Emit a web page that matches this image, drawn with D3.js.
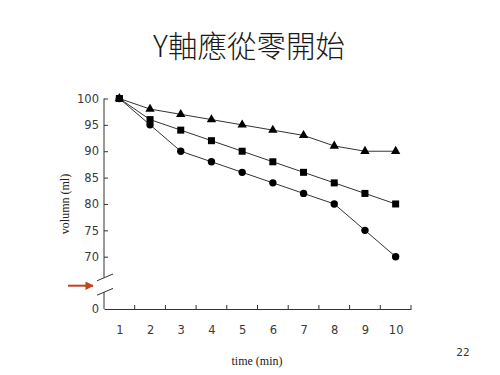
<!DOCTYPE html>
<html>
<head>
<meta charset="utf-8">
<script src="https://cdnjs.cloudflare.com/ajax/libs/d3/7.8.5/d3.min.js"></script>
<style>
  body { margin: 0; background: #fff; }
  .tick text { fill: #3a3a3a; }
</style>
</head>
<body>
<div id="chart"></div>
<script>
var title = "Y軸應從零開始";
var times = [1, 2, 3, 4, 5, 6, 7, 8, 9, 10];
var triangleSeries = [100, 98, 97, 96, 95, 94, 93, 91, 90, 90];
var squareSeries = [100, 96, 94, 92, 90, 88, 86, 84, 82, 80];
var circleSeries = [100, 95, 90, 88, 86, 84, 82, 80, 75, 70];
var yTickValues = [70, 75, 80, 85, 90, 95, 100];
var xTickMarks = [1.5, 2.5, 3.5, 4.5, 5.5, 6.5, 7.5, 8.5, 9.5, 10.5];
var xLabel = "time (min)";
var yLabel = "volumn (ml)";
var pageNumber = "22";

var width = 500, height = 375;

var svg = d3.select("#chart").append("svg")
    .attr("width", width)
    .attr("height", height);

// title
svg.append("text")
    .attr("x", 249)
    .attr("y", 57)
    .attr("text-anchor", "middle")
    .style("font-family", "'Noto Sans CJK TC', sans-serif")
    .style("font-weight", "300")
    .style("font-size", "29.5px")
    .style("fill", "#1a1a1a")
    .text(title);

// scales: piecewise y so the 0..70 gap is squeezed (broken axis)
var x = d3.scaleLinear().domain([0.5, 10.5]).range([104, 411]);
var y = d3.scaleLinear().domain([0, 70, 100]).range([309, 256.7, 98.5]);

var axisColor = "#333";

// y axis ticks + labels (ticks point inward)
var yAxis = svg.append("g")
    .attr("transform", "translate(" + x(0.5) + ",0)")
    .call(d3.axisLeft(y).tickValues(yTickValues).tickSizeInner(-4).tickSizeOuter(0).tickPadding(5));
yAxis.select(".domain").remove();
yAxis.selectAll("line").attr("stroke", axisColor);
yAxis.selectAll("text")
    .style("font-family", "'DejaVu Sans', sans-serif")
    .style("font-size", "11.5px");

// zero label
svg.append("text")
    .attr("x", x(0.5) - 5)
    .attr("y", y(0))
    .attr("dy", "0.32em")
    .attr("text-anchor", "end")
    .style("font-family", "'DejaVu Sans', sans-serif")
    .style("font-size", "11.5px")
    .style("fill", "#3a3a3a")
    .text("0");

// y axis line with break
var breakTop = 277.6, breakBottom = 292;
svg.append("line")
    .attr("x1", x(0.5)).attr("x2", x(0.5))
    .attr("y1", y(100)).attr("y2", breakTop)
    .attr("stroke", axisColor);
svg.append("line")
    .attr("x1", x(0.5)).attr("x2", x(0.5))
    .attr("y1", breakBottom).attr("y2", y(0))
    .attr("stroke", axisColor);
[breakTop, breakBottom].forEach(function(by) {
    svg.append("line")
        .attr("x1", x(0.5) - 7).attr("y1", by + 3.2)
        .attr("x2", x(0.5) + 9).attr("y2", by - 3.6)
        .attr("stroke", axisColor);
});

// red arrow pointing at the break
svg.append("defs").append("marker")
    .attr("id", "arrowHead")
    .attr("viewBox", "0 0 10 10")
    .attr("refX", 9).attr("refY", 5)
    .attr("markerWidth", 4.2).attr("markerHeight", 4.2)
    .attr("orient", "auto")
    .append("path")
    .attr("d", "M0,0L10,5L0,10z")
    .attr("fill", "#c0441f");
svg.append("line")
    .attr("x1", 68).attr("y1", 285.7)
    .attr("x2", 93).attr("y2", 285.7)
    .attr("stroke", "#c0441f")
    .attr("stroke-width", 2)
    .attr("marker-end", "url(#arrowHead)");

// x axis
var xAxis = svg.append("g")
    .attr("transform", "translate(0," + y(0) + ")")
    .call(d3.axisBottom(x).tickValues(times).tickSize(0).tickPadding(17).tickFormat(d3.format("d")));
xAxis.select(".domain").attr("stroke", axisColor);
xAxis.selectAll("text")
    .style("font-family", "'DejaVu Sans', sans-serif")
    .style("font-size", "11.5px");
svg.append("g").selectAll("line")
    .data(xTickMarks).enter()
    .append("line")
    .attr("x1", function(d) { return x(d); })
    .attr("x2", function(d) { return x(d); })
    .attr("y1", y(0))
    .attr("y2", y(0) - 4)
    .attr("stroke", axisColor);

// axis titles
svg.append("text")
    .attr("x", 257)
    .attr("y", 365)
    .attr("text-anchor", "middle")
    .style("font-family", "'Liberation Serif', serif")
    .style("font-size", "12px")
    .style("fill", "#222")
    .text(xLabel);
svg.append("text")
    .attr("transform", "translate(69,204)rotate(-90)")
    .attr("text-anchor", "middle")
    .style("font-family", "'Liberation Serif', serif")
    .style("font-size", "12px")
    .style("fill", "#222")
    .text(yLabel);

// page number
svg.append("text")
    .attr("x", 463)
    .attr("y", 356)
    .attr("text-anchor", "middle")
    .style("font-family", "'DejaVu Sans', sans-serif")
    .style("font-size", "10.5px")
    .style("fill", "#333")
    .text(pageNumber);

// series lines
var line = d3.line()
    .x(function(d, i) { return x(times[i]); })
    .y(function(d) { return y(d); });

[triangleSeries, squareSeries, circleSeries].forEach(function(s) {
    svg.append("path")
        .datum(s)
        .attr("d", line)
        .attr("fill", "none")
        .attr("stroke", "#333")
        .attr("stroke-width", 1);
});

// markers
svg.append("g").selectAll("path")
    .data(triangleSeries).enter()
    .append("path")
    .attr("transform", function(d, i) { return "translate(" + x(times[i]) + "," + y(d) + ")"; })
    .attr("d", d3.symbol().type(d3.symbolTriangle).size(38))
    .attr("fill", "#000");

svg.append("g").selectAll("rect")
    .data(squareSeries).enter()
    .append("rect")
    .attr("x", function(d, i) { return x(times[i]) - 3.5; })
    .attr("y", function(d) { return y(d) - 3.5; })
    .attr("width", 7)
    .attr("height", 7)
    .attr("fill", "#000");

svg.append("g").selectAll("circle")
    .data(circleSeries).enter()
    .append("circle")
    .attr("cx", function(d, i) { return x(times[i]); })
    .attr("cy", function(d) { return y(d); })
    .attr("r", 3.7)
    .attr("fill", "#000");
</script>
</body>
</html>
